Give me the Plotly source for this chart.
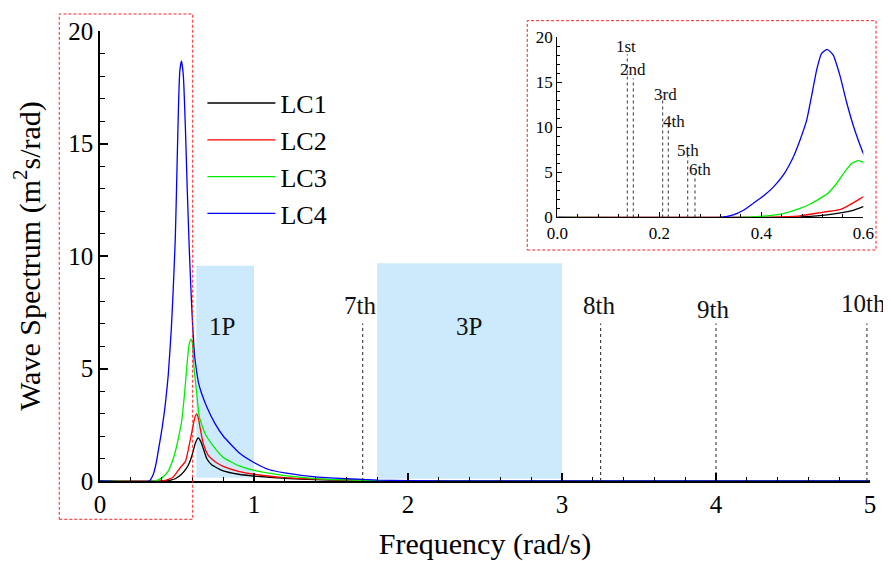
import plotly.graph_objects as go

# ---------------- data ----------------
lc1_x = [0, 0.43, 0.46, 0.489, 0.529, 0.561, 0.58, 0.6, 0.62, 0.638, 0.655, 0.671, 0.693, 0.725, 0.76, 0.80, 0.9, 1.0, 1.2, 1.4, 1.6, 2.0, 5.0]
lc1_y = [0, 0, 0.04, 0.1, 0.3, 0.56, 0.8, 1.2, 1.7, 1.92, 1.75, 1.44, 1.0, 0.72, 0.58, 0.45, 0.3, 0.22, 0.12, 0.06, 0.03, 0.0, 0]

lc2_x = [0, 0.41, 0.44, 0.476, 0.522, 0.554, 0.574, 0.6, 0.615, 0.628, 0.64, 0.649, 0.671, 0.703, 0.736, 0.76, 0.80, 0.9, 1.0, 1.2, 1.4, 1.6, 1.8, 2.2, 5.0]
lc2_y = [0, 0, 0.06, 0.18, 0.6, 0.86, 1.42, 2.3, 2.8, 2.98, 2.75, 2.4, 1.66, 1.14, 0.92, 0.8, 0.65, 0.43, 0.3, 0.15, 0.08, 0.04, 0.02, 0, 0]

lc3_x = [0, 0.36, 0.404, 0.443, 0.476, 0.496, 0.509, 0.529, 0.548, 0.564, 0.577, 0.59, 0.6, 0.61, 0.628, 0.645, 0.682, 0.736, 0.80, 0.9, 1.0, 1.2, 1.4, 1.6, 1.8, 2.2, 5.0]
lc3_y = [0, 0, 0.15, 0.44, 1.0, 1.5, 1.9, 2.6, 3.8, 5.1, 6.0, 6.3, 6.12, 5.08, 3.89, 2.85, 2.11, 1.55, 1.05, 0.68, 0.47, 0.24, 0.11, 0.05, 0.02, 0, 0]

lc4_x = [0, 0.32, 0.345, 0.365, 0.384, 0.404, 0.424, 0.443, 0.463, 0.476, 0.489, 0.499, 0.509, 0.518, 0.529, 0.541, 0.554, 0.567, 0.58, 0.59, 0.6, 0.615, 0.628, 0.64, 0.66, 0.693, 0.747, 0.80, 0.909, 1.0, 1.1, 1.2, 1.4, 1.6, 1.8, 2.0, 2.5, 5.0]
lc4_y = [0, 0, 0.28, 0.8, 1.56, 2.38, 3.4, 4.7, 6.75, 8.6, 10.8, 13.6, 16.5, 18.2, 18.67, 18.03, 15.8, 12.85, 10.27, 8.6, 7.12, 5.55, 4.85, 4.35, 3.89, 3.3, 2.55, 2.0, 1.22, 0.82, 0.5, 0.36, 0.18, 0.1, 0.04, 0.02, 0, 0]

series_names = ["LC1", "LC2", "LC3", "LC4"]

# natural frequencies (rad/s)
main_mode_freq = [1.706, 3.251, 4.0, 4.98]
main_mode_names = ["7th", "8th", "9th", "10th"]
main_mode_height = [7, 7, 7, 7]

inset_mode_freq = [0.1373, 0.149, 0.2066, 0.2176, 0.2557, 0.27]
inset_mode_names = ["1st", "2nd", "3rd", "4th", "5th", "6th"]
inset_mode_height = [18.1, 15.45, 13.4, 10.6, 6.9, 4.9]

# rotor excitation bands
band_names = ["1P", "3P"]
band_start = [0.625, 1.8]
band_end = [1.0, 3.0]

# ---------------- styling / positions ----------------
FONT = "Liberation Serif, Times New Roman, serif"
colors = ["#000000", "#ff0000", "#00ee00", "#0000ff"]
band_top = [9.57, 9.68]
band_bottom = [0.15, 0.1]
band_label_pos = [(0.794, 6.87), (2.398, 6.87)]
main_label_pos = [(1.686, 7.78), (3.242, 7.82), (3.98, 7.64), (4.957, 7.9)]
inset_label_pos = [(0.1355, 18.95), (0.1478, 16.4), (0.2125, 13.6), (0.229, 10.6), (0.257, 7.4), (0.28, 5.35)]

xs = [lc1_x, lc2_x, lc3_x, lc4_x]
ys = [lc1_y, lc2_y, lc3_y, lc4_y]

fig = go.Figure()

# main curves
for name, x, y, c in zip(series_names, xs, ys, colors):
    fig.add_trace(go.Scatter(x=x, y=y, mode="lines", name=name,
                             line=dict(color=c, width=1.3, shape="spline", smoothing=0.5),
                             xaxis="x", yaxis="y", legendgroup=name))

# inset curves
for name, x, y, c in zip(series_names, xs, ys, colors):
    fig.add_trace(go.Scatter(x=x, y=y, mode="lines", name=name, showlegend=False,
                             line=dict(color=c, width=1.3, shape="spline", smoothing=0.5),
                             xaxis="x2", yaxis="y2", legendgroup=name, hoverinfo="skip"))

# mode lines (main)
mx, my = [], []
for f, h in zip(main_mode_freq, main_mode_height):
    mx += [f, f, None]
    my += [0, h, None]
fig.add_trace(go.Scatter(x=mx, y=my, mode="lines", showlegend=False,
                         line=dict(color="#222222", width=1, dash="dot"), xaxis="x", yaxis="y"))

# mode lines (inset)
ix, iy = [], []
for f, h in zip(inset_mode_freq, inset_mode_height):
    ix += [f, f, None]
    iy += [0, h, None]
fig.add_trace(go.Scatter(x=ix, y=iy, mode="lines", showlegend=False,
                         line=dict(color="#333333", width=1, dash="dot"), xaxis="x2", yaxis="y2"))

shapes = []
for s, e, b, t in zip(band_start, band_end, band_bottom, band_top):
    shapes.append(dict(type="rect", xref="x", yref="y", x0=s, x1=e, y0=b, y1=t,
                       fillcolor="#cceafb", line=dict(width=0), layer="below"))
# red dashed boxes
shapes.append(dict(type="rect", xref="paper", yref="paper", x0=-0.0529, x1=0.1204, y0=-0.0851, y1=1.0378,
                   line=dict(color="#ff2020", width=1, dash="3px,2px"), fillcolor="rgba(0,0,0,0)"))
shapes.append(dict(type="rect", xref="paper", yref="paper", x0=0.5549, x1=1.0078, y0=0.5133, y1=1.0229,
                   line=dict(color="#ff2020", width=1, dash="3px,2px"), fillcolor="rgba(0,0,0,0)"))

annotations = []
for n, (px, py) in zip(band_names, band_label_pos):
    annotations.append(dict(x=px, y=py, xref="x", yref="y", text=n, showarrow=False,
                            font=dict(family=FONT, size=25, color="#111")))
for n, (px, py) in zip(main_mode_names, main_label_pos):
    annotations.append(dict(x=px, y=py, xref="x", yref="y", text=n, showarrow=False,
                            font=dict(family=FONT, size=25, color="#111")))
for n, (px, py) in zip(inset_mode_names, inset_label_pos):
    annotations.append(dict(x=px, y=py, xref="x2", yref="y2", text=n, showarrow=False,
                            font=dict(family=FONT, size=17, color="#111")))

axis_common = dict(showline=True, linecolor="black", showgrid=False, zeroline=False,
                   ticks="inside", tickcolor="black", automargin=False)

# page body has an 8px margin: size and margins compensate so the plot area sits
# at the same screen position as the reference
fig.update_layout(
    width=883, height=553,
    margin=dict(l=92, r=21, t=23, b=80),
    paper_bgcolor="white", plot_bgcolor="white",
    font=dict(family=FONT, color="black"),
    shapes=shapes, annotations=annotations,
    showlegend=True,
    legend=dict(x=0.133, y=0.892, xanchor="left", yanchor="top",
                font=dict(family=FONT, size=26, color="black"),
                itemwidth=68,
                bgcolor="rgba(0,0,0,0)", traceorder="normal"),
    xaxis=dict(axis_common, range=[0, 5], domain=[0, 1], dtick=1, tick0=0,
               linewidth=1.6, ticklen=8, tickwidth=1.5,
               minor=dict(ticks="inside", dtick=0.2, ticklen=4, tickwidth=1, tickcolor="black"),
               tickfont=dict(family=FONT, size=25),
               title=dict(text="Frequency (rad/s)", font=dict(family=FONT, size=30), standoff=16),
               anchor="y"),
    yaxis=dict(axis_common, range=[0, 20], domain=[0, 1], dtick=5, tick0=0,
               linewidth=1.6, ticklen=8, tickwidth=1.5,
               minor=dict(ticks="inside", dtick=1, ticklen=5, tickwidth=1, tickcolor="black"),
               tickfont=dict(family=FONT, size=25),
               title=dict(text="Wave Spectrum (m<sup>2</sup>s/rad)", font=dict(family=FONT, size=30), standoff=24),
               anchor="x"),
    xaxis2=dict(axis_common, range=[0, 0.6], domain=[0.5939, 0.9913], dtick=0.2, tick0=0,
                tickformat=".1f", linewidth=1.2, ticklen=5, tickwidth=1,
                minor=dict(ticks="inside", dtick=0.04, ticklen=3, tickwidth=1, tickcolor="black"),
                tickfont=dict(family=FONT, size=17), anchor="y2"),
    yaxis2=dict(axis_common, range=[0, 20], domain=[0.5856, 0.986], dtick=5, tick0=0,
                linewidth=1.2, ticklen=5, tickwidth=1,
                minor=dict(ticks="inside", dtick=1, ticklen=3, tickwidth=1, tickcolor="black"),
                tickfont=dict(family=FONT, size=17), anchor="x2"),
)

fig.write_html("out.html")
